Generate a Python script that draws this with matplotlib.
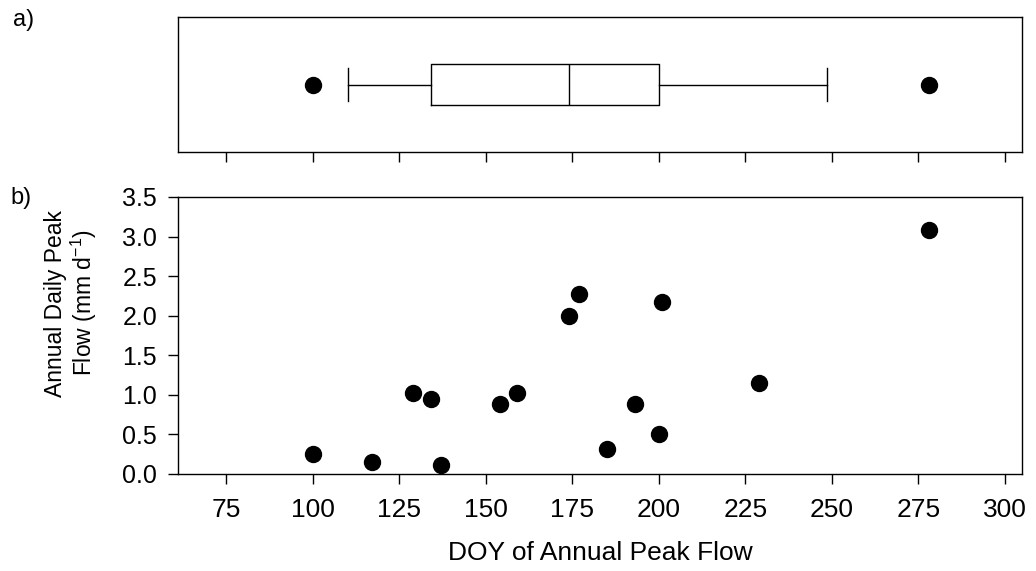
import numpy as np
import matplotlib
matplotlib.use('Agg')
import matplotlib.pyplot as plt
from matplotlib import cbook

plt.rcParams['font.family'] = ['Liberation Sans', 'DejaVu Sans']
plt.rcParams['mathtext.fontset'] = 'custom'
plt.rcParams['mathtext.rm'] = 'Liberation Sans'

# day of year of annual peak flow and peak flow (mm/d)
doy = [100, 117, 129, 134, 137, 154, 159, 174, 177, 185, 193, 200, 201, 229, 278]
peak = [0.25, 0.155, 1.02, 0.95, 0.11, 0.89, 1.02, 2.0, 2.27, 0.32, 0.88, 0.505, 2.17, 1.15, 3.08]
xticks = [75, 100, 125, 150, 175, 200, 225, 250, 275, 300]
yticks = [0.0, 0.5, 1.0, 1.5, 2.0, 2.5, 3.0, 3.5]

fig = plt.figure(figsize=(10.36, 5.71), dpi=100)
ax1 = fig.add_axes([0.1718, 0.7338, 0.8147, 0.2364])
ax2 = fig.add_axes([0.1718, 0.1699, 0.8147, 0.4851])

# box plot, sigmaplot style: box 25-75, whiskers 10-90, outliers beyond
arr = np.array(doy)
st = cbook.boxplot_stats(arr)[0]
p = np.percentile(arr, [10, 25, 50, 75, 90], method='weibull')
st['whislo'], st['q1'], st['med'], st['q3'], st['whishi'] = p
st['fliers'] = arr[(arr < p[0]) | (arr > p[4])]
lp = dict(color='black', lw=1)
ax1.bxp([st], positions=[1], widths=0.6, capwidths=0.5, vert=False,
        boxprops=lp, medianprops=lp, whiskerprops=lp, capprops=lp,
        flierprops=dict(marker='o', markerfacecolor='black', markeredgecolor='black', markersize=11.5))
ax1.set_xlim(61, 305)
ax1.set_ylim(0, 2)
ax1.set_yticks([])
ax1.set_xticks(xticks)
ax1.set_xticklabels([])
ax1.tick_params(axis='x', direction='out', length=7, width=1)

ax2.scatter(doy, peak, s=132, color='black', zorder=3)
ax2.set_xlim(61, 305)
ax2.set_ylim(0, 3.5)
ax2.set_xticks(xticks)
ax2.set_yticks(yticks)
ax2.set_yticklabels([f'{v:.1f}' for v in yticks])
ax2.tick_params(axis='y', labelsize=18, direction='out', length=7, width=1, pad=8)
ax2.tick_params(axis='x', labelsize=19, direction='out', length=7, width=1, pad=10)
ax2.set_xlabel('DOY of Annual Peak Flow', fontsize=19, labelpad=14)
ax2.set_ylabel('Annual Daily Peak\nFlow (mm d$^{-1}$)', fontsize=16.5, linespacing=1.05)
ax2.yaxis.set_label_coords(-0.094, 0.617)

for ax in (ax1, ax2):
    for sp in ax.spines.values():
        sp.set_linewidth(1)

fig.text(0.013, 0.985, 'a)', fontsize=17, va='top')
fig.text(0.010, 0.672, 'b)', fontsize=17, va='top')

fig.savefig('out.png', dpi=100)
